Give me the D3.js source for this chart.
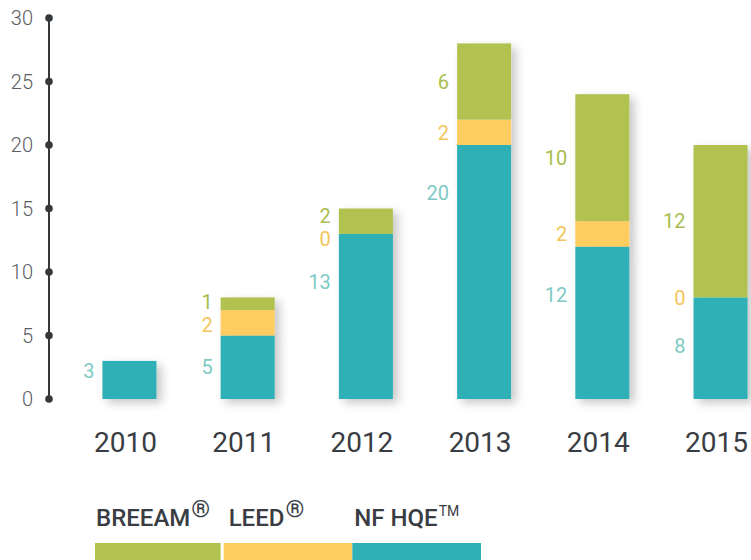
<!DOCTYPE html>
<html lang="en">
<head>
    <meta charset="UTF-8">
    <script src="https://d3js.org/d3.v7.min.js"></script>
    <style>
        body { margin: 0; background: #fff; }
        svg { display: block; font-family: Roboto, "Open Sans", sans-serif; }
    </style>
</head>
<body>
    <div id="chart"></div>
    <script>
        // Data
        const years = ["2010", "2011", "2012", "2013", "2014", "2015"];
        const hqe = [3, 5, 13, 20, 12, 8];
        const leed = [0, 2, 0, 2, 2, 0];
        const breeam = [0, 1, 2, 6, 10, 12];
        const yTicks = [0, 5, 10, 15, 20, 25, 30];
        const legendNames = ["BREEAM", "LEED", "NF HQE"];
        const legendMarks = ["®", "®", "TM"];

        const keys = ["hqe", "leed", "breeam"];
        const colors = { hqe: "#2fb0b6", leed: "#fecd5f", breeam: "#b2c251" };
        const labelColors = { hqe: "#7ecac5", leed: "#f3c65b", breeam: "#a9bd4e" };

        const table = years.map((yr, i) => ({ year: yr, hqe: hqe[i], leed: leed[i], breeam: breeam[i] }));
        const stacked = d3.stack().keys(keys)(table);

        const width = 751, height = 560;

        const svg = d3.select("#chart").append("svg")
            .attr("width", width)
            .attr("height", height);

        // Shadow for bars
        svg.append("defs").append("filter")
            .attr("id", "shadow")
            .attr("x", "-30%").attr("y", "-30%")
            .attr("width", "160%").attr("height", "160%")
            .append("feDropShadow")
            .attr("dx", 5).attr("dy", 4)
            .attr("stdDeviation", 5)
            .attr("flood-color", "#000")
            .attr("flood-opacity", 0.22);

        // Scales
        const x = d3.scaleBand()
            .domain(years)
            .range([70.5, 779.5])
            .paddingInner(0.543)
            .paddingOuter(0.27);

        const y = d3.scaleLinear()
            .domain([0, 30])
            .range([399, 18]);

        // Axis
        const axisX = 49;
        svg.append("line")
            .attr("x1", axisX).attr("x2", axisX)
            .attr("y1", y(30)).attr("y2", y(0))
            .attr("stroke", "#35383a")
            .attr("stroke-width", 2);

        svg.selectAll(".tick-dot")
            .data(yTicks)
            .join("circle")
            .attr("class", "tick-dot")
            .attr("cx", axisX)
            .attr("cy", d => y(d))
            .attr("r", 3.8)
            .attr("fill", "#35383a");

        svg.selectAll(".tick-label")
            .data(yTicks)
            .join("text")
            .attr("class", "tick-label")
            .attr("x", 33)
            .attr("y", d => y(d))
            .attr("dy", "0.36em")
            .attr("text-anchor", "end")
            .attr("font-size", 20)
            .attr("font-weight", 300)
            .attr("fill", "#5a5d61")
            .text(d => d);

        // Bars, one group per year so the shadow covers the whole stack
        const cols = svg.selectAll(".col")
            .data(years)
            .join("g")
            .attr("class", "col")
            .attr("filter", "url(#shadow)");

        cols.each(function (yr, i) {
            d3.select(this).selectAll("rect")
                .data(stacked.map(s => ({ key: s.key, d: s[i] })).filter(s => s.d[1] > s.d[0]))
                .join("rect")
                .attr("x", x(yr))
                .attr("width", x.bandwidth())
                .attr("y", s => y(s.d[1]))
                .attr("height", s => y(s.d[0]) - y(s.d[1]))
                .attr("fill", s => colors[s.key]);
        });

        // Value labels, to the left of each bar
        years.forEach((yr, i) => {
            const total = hqe[i] + leed[i] + breeam[i];
            const labels = stacked
                // zero segments sitting on top of the stack get no label
                .filter(s => s[i][1] > s[i][0] || s[i][1] < total)
                .map(s => {
                    const [v0, v1] = s[i];
                    let v = (v0 + v1) / 2;
                    if (s.key === "hqe") v = Math.max(v, v1 - 3.8, Math.min(2.2, v1));
                    return { key: s.key, value: v1 - v0, py: y(v) };
                }).sort((a, b) => a.py - b.py);

            // spread labels that sit too close together
            for (let k = 1; k < labels.length; k++) {
                const gap = labels[k].py - labels[k - 1].py;
                if (gap < 23) {
                    const shift = (23 - gap) / 2;
                    labels[k - 1].py -= shift;
                    labels[k].py += shift;
                }
            }

            svg.append("g").selectAll("text")
                .data(labels)
                .join("text")
                .attr("x", x(yr) - 8)
                .attr("y", d => d.py)
                .attr("dy", "0.36em")
                .attr("text-anchor", "end")
                .attr("font-size", 20)
                .attr("fill", d => labelColors[d.key])
                .text(d => d.value);
        });

        // Year labels
        svg.selectAll(".year")
            .data(years)
            .join("text")
            .attr("class", "year")
            .attr("x", d => x(d) + x.bandwidth() / 2 - 4)
            .attr("y", 452)
            .attr("text-anchor", "middle")
            .attr("font-size", 28)
            .attr("fill", "#393d43")
            .text(d => d);

        // Legend
        const legendKeys = ["breeam", "leed", "hqe"];
        const lx = d3.scaleBand()
            .domain(legendKeys)
            .range([95, 481]);

        svg.selectAll(".legend-swatch")
            .data(legendKeys)
            .join("rect")
            .attr("class", "legend-swatch")
            .attr("x", d => lx(d))
            .attr("y", 543)
            .attr("width", (d, i) => lx.bandwidth() - (i === 0 ? 3 : 0))
            .attr("height", 20)
            .attr("fill", d => colors[d]);

        const legendText = svg.selectAll(".legend-text")
            .data(legendKeys)
            .join("text")
            .attr("class", "legend-text")
            .attr("x", (d, i) => lx(d) + [1, 5, 2][i])
            .attr("y", 526)
            .attr("font-size", 24)
            .attr("font-weight", 500)
            .attr("fill", "#393d43");

        legendText.append("tspan")
            .text((d, i) => legendNames[i]);

        legendText.append("tspan")
            .attr("dx", 1)
            .attr("dy", (d, i) => i < 2 ? -9 : -10)
            .attr("font-size", (d, i) => i < 2 ? 24 : 14)
            .attr("font-weight", 400)
            .text((d, i) => legendMarks[i]);
    </script>
</body>
</html>
